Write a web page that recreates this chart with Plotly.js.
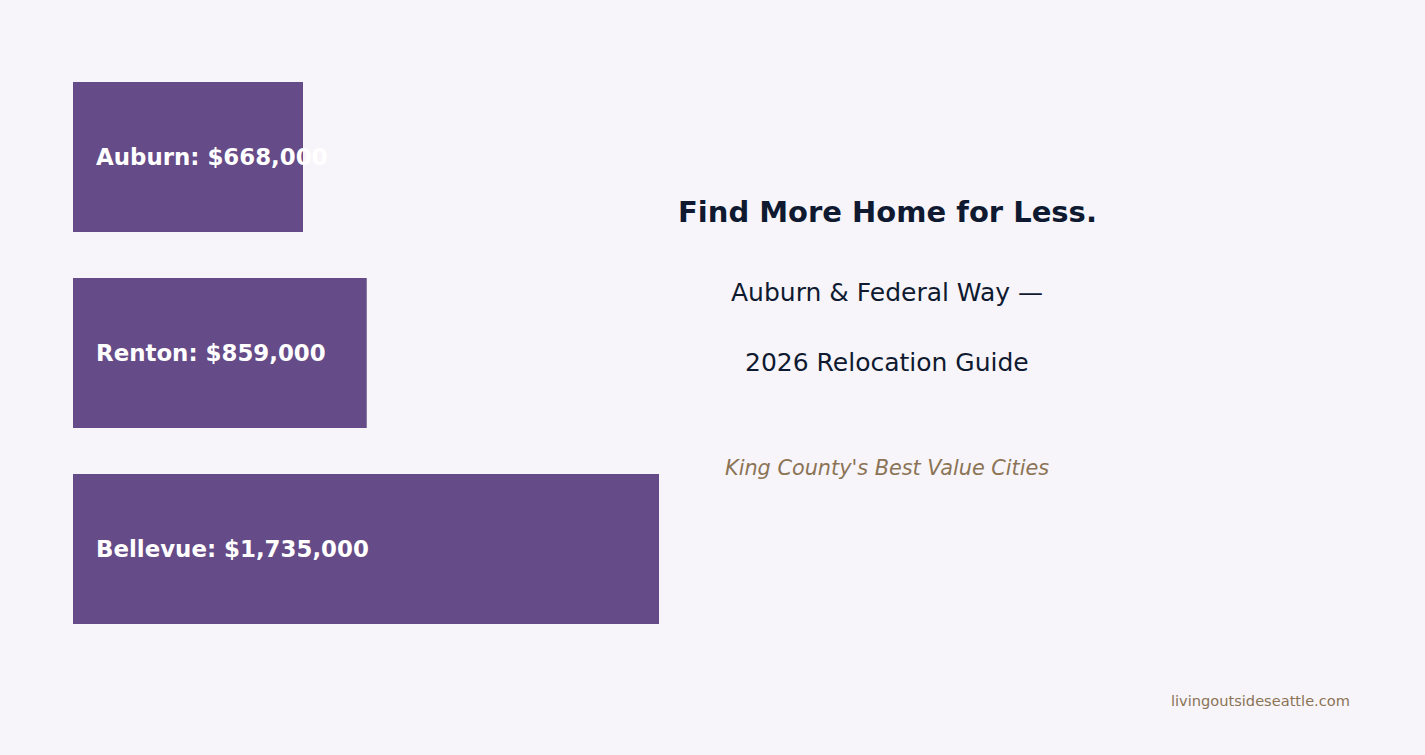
<!DOCTYPE html>
<html><head><meta charset="utf-8">
<script src="https://cdn.plot.ly/plotly-3.0.1.min.js"></script>
<style>html,body{margin:0;padding:0;background:#F7F5FA;}#chart{width:1425px;height:755px;}</style>
</head><body><div id="chart"></div>
<script>
const cities = ["Auburn", "Renton", "Bellevue"];
const prices = [668000, 859000, 1735000];
const labels = ["Auburn: $668,000", "Renton: $859,000", "Bellevue: $1,735,000"];
const xRange = [-21300, 1735000];
const title = "Find More Home for Less.";
const subtitle1 = "Auburn & Federal Way —";
const subtitle2 = "2026 Relocation Guide";
const tagline = "King County's Best Value Cities";
const site = "livingoutsideseattle.com";

const FONT = "DejaVu Sans, sans-serif";
const NAVY = "#0F1A30";
const BROWN = "#8B7355";

const annotations = cities.map((c, i) => ({
  x: xRange[0], y: c, xref: "x", yref: "y", xanchor: "left", yanchor: "middle",
  xshift: 21, text: "<b>" + labels[i] + "</b>", showarrow: false,
  font: {family: FONT, size: 22.9, color: "#FFFFFF"}
}));
annotations.push(
  {x: 0.6225, y: 212, xref: "paper", yref: "paper", text: "<b>" + title + "</b>", showarrow: false, font: {family: FONT, size: 29, color: NAVY}},
  {x: 0.6225, y: 293, xref: "paper", yref: "paper", text: subtitle1, showarrow: false, font: {family: FONT, size: 25, color: NAVY}},
  {x: 0.6225, y: 363, xref: "paper", yref: "paper", text: subtitle2, showarrow: false, font: {family: FONT, size: 25, color: NAVY}},
  {x: 0.6225, y: 468, xref: "paper", yref: "paper", text: "<i>" + tagline + "</i>", showarrow: false, font: {family: FONT, size: 20.8, color: BROWN}},
  {x: 0.9487, y: 701, xref: "paper", yref: "paper", xanchor: "right", text: site, showarrow: false, font: {family: FONT, size: 14.6, color: BROWN}}
);
const T = 59, H = 588.5;
annotations.forEach(a => { if (a.yref === "paper") { a.y = 1 - (a.y - T) / H; a.yanchor = "middle"; } });
annotations.forEach(a => { if (a.xref === "paper") { a.x = (a.x * 1425 - 73) / 1279; } });

const trace = {
  type: "bar", orientation: "h", x: prices.map(v => v - xRange[0]), base: xRange[0], y: cities,
  marker: {color: "#654B87"}, width: 0.765, hoverinfo: "skip"
};
const layout = {
  width: 1425, height: 755,
  paper_bgcolor: "#F7F5FA", plot_bgcolor: "#F7F5FA",
  margin: {l: 73, r: 73, t: T, b: 755 - T - H, pad: 0},
  showlegend: false,
  xaxis: {domain: [0, 0.4582], range: xRange, visible: false, fixedrange: true},
  yaxis: {autorange: false, range: [2.5, -0.5], visible: false, fixedrange: true, type: "category"},
  annotations: annotations
};
Plotly.newPlot("chart", [trace], layout, {displayModeBar: false, staticPlot: true});
</script></body></html>
